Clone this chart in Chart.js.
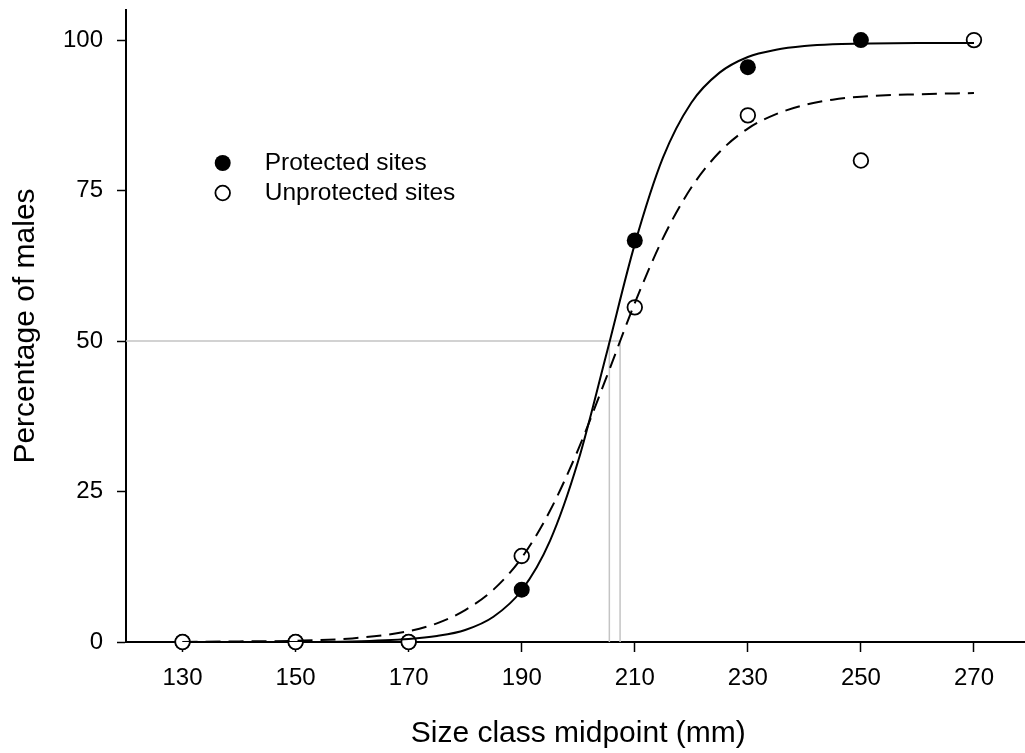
<!DOCTYPE html>
<html lang="en">
<head>
    <meta charset="UTF-8">
    <title>Percentage of males by size class</title>
    <script src="https://cdn.jsdelivr.net/npm/chart.js"></script>
    <style>
        html, body {
            margin: 0;
            padding: 0;
            background: #fff;
            overflow: hidden;
        }
        #chart-container {
            width: 1040px;
            height: 753px;
        }
    </style>
</head>
<body>
    <div id="chart-container">
        <canvas id="chart" width="1040" height="753"></canvas>
    </div>

    <script>
        // Size class midpoints (mm) and observed percentage of males
        const sizeClasses = [130, 150, 170, 190, 210, 230, 250, 270];
        const protectedPct = [0, 0, 0, 8.7, 66.7, 95.5, 100, null];
        const unprotectedPct = [0, 0, 0, 14.3, 55.6, 87.5, 80, 100];

        const curveX = [130, 140, 150, 160, 170, 175, 180, 185, 190, 195, 200, 205, 210, 215, 220, 225, 230, 235, 240, 245, 250, 260, 270];
        const protectedFit = [0, 0, 0, 0.1, 0.5, 1.0, 2.0, 4.2, 8.6, 16.8, 30.1, 47.9, 66.1, 80.5, 89.6, 94.6, 97.2, 98.4, 99.0, 99.3, 99.4, 99.5, 99.5];
        const unprotectedFit = [0, 0.1, 0.2, 0.6, 1.8, 3.1, 5.3, 8.7, 14.0, 21.8, 32.0, 44.0, 56.3, 67.1, 75.5, 81.4, 85.3, 87.7, 89.2, 90.1, 90.6, 91.0, 91.2];

        // Size at 50% males
        const l50Protected = 205.5;
        const l50Unprotected = 207.4;

        const xTicks = [130, 150, 170, 190, 210, 230, 250, 270];
        const yTicks = [0, 25, 50, 75, 100];
        const legendLabels = ['Protected sites', 'Unprotected sites'];

        const FONT = '"Liberation Sans", Arial, sans-serif';

        const toPoints = (xs, ys) => xs.map((x, i) => ({ x: x, y: ys[i] })).filter(p => p.y !== null);

        // Legend drawn inside the plot, upper left
        const insideLegend = {
            id: 'insideLegend',
            afterDraw(chart, args, opts) {
                const ctx = chart.ctx;
                ctx.save();
                ctx.font = opts.fontSize + 'px ' + FONT;
                ctx.textBaseline = 'middle';
                opts.items.forEach((item, i) => {
                    const y = opts.y + i * opts.rowHeight;
                    ctx.beginPath();
                    ctx.arc(opts.x, y, item.radius, 0, Math.PI * 2);
                    ctx.fillStyle = item.fill;
                    ctx.fill();
                    if (item.borderWidth) {
                        ctx.lineWidth = item.borderWidth;
                        ctx.strokeStyle = '#000';
                        ctx.stroke();
                    }
                    ctx.fillStyle = '#000';
                    ctx.fillText(item.text, opts.x + opts.textGap, y);
                });
                ctx.restore();
            }
        };

        const ctx = document.getElementById('chart').getContext('2d');
        new Chart(ctx, {
            type: 'scatter',
            data: {
                datasets: [
                    {
                        // 50% reference lines
                        data: [{ x: 120, y: 50 }, { x: l50Unprotected, y: 50 }, { x: l50Unprotected, y: 0 }],
                        showLine: true,
                        borderColor: '#c4c4c4',
                        borderWidth: 1.5,
                        pointRadius: 0,
                        order: 10
                    },
                    {
                        data: [{ x: l50Protected, y: 50 }, { x: l50Protected, y: 0 }],
                        showLine: true,
                        borderColor: '#c4c4c4',
                        borderWidth: 1.5,
                        pointRadius: 0,
                        order: 9
                    },
                    {
                        label: legendLabels[0],
                        data: toPoints(sizeClasses, protectedPct),
                        pointRadius: 8,
                        pointBackgroundColor: '#000',
                        pointBorderColor: '#000',
                        pointBorderWidth: 0,
                        clip: false,
                        order: 4
                    },
                    {
                        label: legendLabels[1],
                        data: toPoints(sizeClasses, unprotectedPct),
                        pointRadius: 7.3,
                        pointBackgroundColor: '#fff',
                        pointBorderColor: '#000',
                        pointBorderWidth: 1.8,
                        clip: false,
                        order: 3
                    },
                    {
                        data: toPoints(curveX, protectedFit),
                        showLine: true,
                        cubicInterpolationMode: 'monotone',
                        borderColor: '#000',
                        borderWidth: 2,
                        pointRadius: 0,
                        order: 2
                    },
                    {
                        data: toPoints(curveX, unprotectedFit),
                        showLine: true,
                        cubicInterpolationMode: 'monotone',
                        borderColor: '#000',
                        borderWidth: 2,
                        borderDash: [15, 8],
                        pointRadius: 0,
                        order: 1
                    }
                ]
            },
            options: {
                responsive: false,
                animation: false,
                events: [],
                layout: {
                    padding: { top: 10, right: 9.5, left: 0, bottom: 0 }
                },
                plugins: {
                    legend: { display: false },
                    tooltip: { enabled: false },
                    insideLegend: {
                        x: 222.7,
                        y: 163,
                        rowHeight: 30,
                        textGap: 42,
                        fontSize: 24.5,
                        items: [
                            { text: legendLabels[0], radius: 8, fill: '#000', borderWidth: 0 },
                            { text: legendLabels[1], radius: 7.3, fill: '#fff', borderWidth: 1.8 }
                        ]
                    }
                },
                scales: {
                    x: {
                        type: 'linear',
                        position: 'bottom',
                        min: 120,
                        max: 280,
                        afterFit: s => {
                            s.height = 111;
                            s.paddingLeft = 0;
                            s.paddingRight = 0;
                        },
                        afterBuildTicks: s => { s.ticks = xTicks.map(v => ({ value: v })); },
                        grid: {
                            drawOnChartArea: false,
                            drawTicks: true,
                            tickLength: 10,
                            tickColor: '#000',
                            tickWidth: 1.5
                        },
                        border: { display: true, color: '#000', width: 2 },
                        ticks: {
                            color: '#000',
                            padding: 12,
                            maxRotation: 0,
                            font: { family: FONT, size: 24 }
                        },
                        title: {
                            display: true,
                            text: 'Size class midpoint (mm)',
                            color: '#000',
                            font: { family: FONT, size: 30 },
                            padding: { top: 0, bottom: 1.5 }
                        }
                    },
                    y: {
                        type: 'linear',
                        position: 'left',
                        min: 0,
                        max: 105,
                        afterFit: s => {
                            s.width = 126;
                            s.paddingTop = 0;
                            s.paddingBottom = 0;
                        },
                        afterBuildTicks: s => { s.ticks = yTicks.map(v => ({ value: v })); },
                        grid: {
                            drawOnChartArea: false,
                            drawTicks: true,
                            tickLength: 9,
                            tickColor: '#000',
                            tickWidth: 1.5
                        },
                        border: { display: true, color: '#000', width: 2 },
                        ticks: {
                            color: '#000',
                            padding: 14,
                            font: { family: FONT, size: 24 }
                        },
                        title: {
                            display: true,
                            text: 'Percentage of males',
                            color: '#000',
                            font: { family: FONT, size: 30 },
                            padding: { top: 8, bottom: 0 }
                        }
                    }
                }
            },
            plugins: [insideLegend]
        });
    </script>
</body>
</html>
